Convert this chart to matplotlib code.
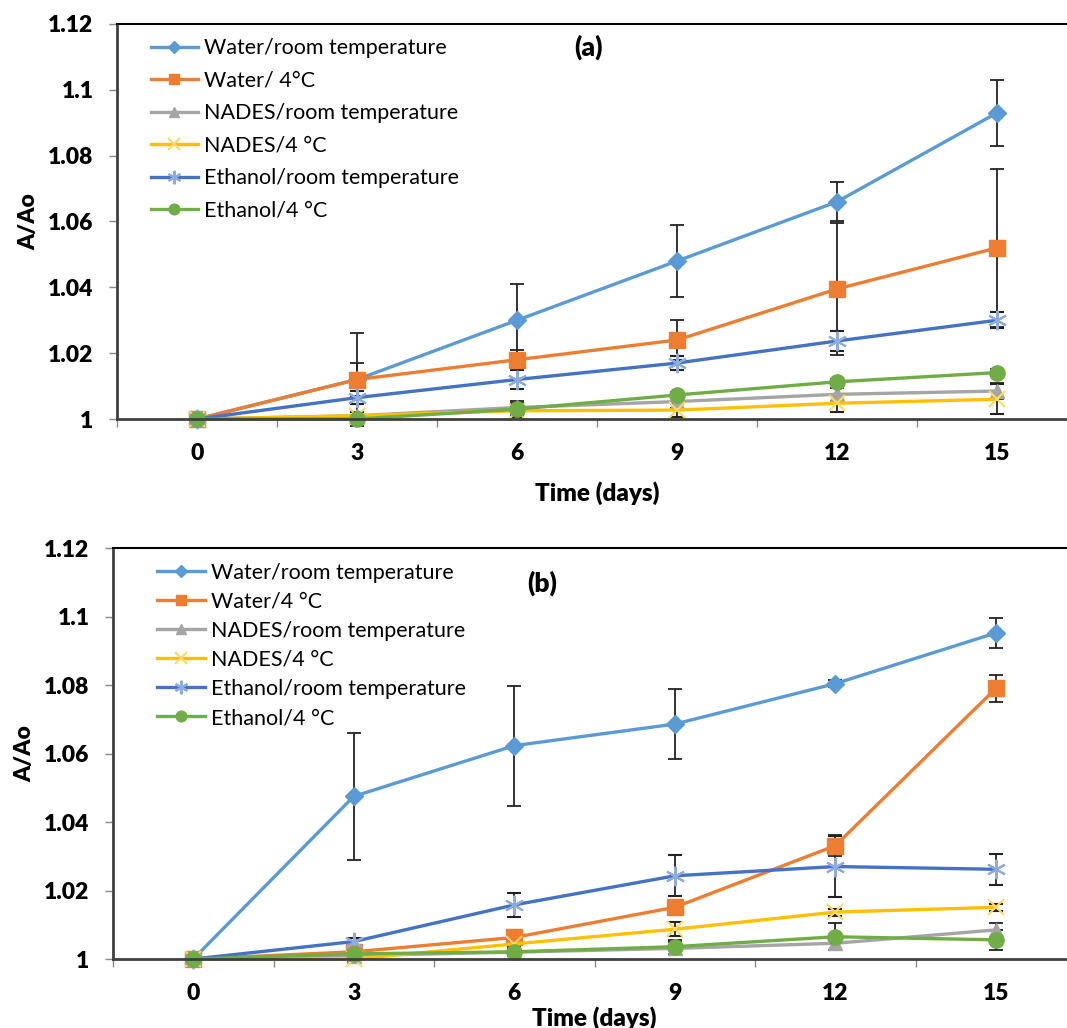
import matplotlib
matplotlib.use("Agg")
import matplotlib.pyplot as plt
import numpy as np

plt.rcParams['font.family'] = ['Lato', 'DejaVu Sans']

days = [0, 3, 6, 9, 12, 15]
labels = ["Water/room temperature", "Water/ 4\u00b0C", "NADES/room temperature",
          "NADES/4 \u00b0C", "Ethanol/room temperature", "Ethanol/4 \u00b0C"]
labels_b = ["Water/room temperature", "Water/4 \u00b0C", "NADES/room temperature",
            "NADES/4 \u00b0C", "Ethanol/room temperature", "Ethanol/4 \u00b0C"]

# panel (a) values and error bars
water_rt_a = [1.0, 1.012, 1.030, 1.048, 1.066, 1.093]
water_4_a = [1.0, 1.012, 1.018, 1.024, 1.0395, 1.052]
nades_rt_a = [1.0, 1.001, 1.0035, 1.0053, 1.0075, 1.0085]
nades_4_a = [1.0, 1.001, 1.0025, 1.0027, 1.0048, 1.006]
eth_rt_a = [1.0, 1.0065, 1.012, 1.017, 1.0237, 1.030]
eth_4_a = [1.0, 1.0, 1.003, 1.0073, 1.0113, 1.0141]
err_water_rt_a = [0, 0.014, 0.011, 0.011, 0.006, 0.010]
err_water_4_a = [0, 0.005, 0.003, 0.006, 0.020, 0.024]
err_nades_rt_a = [0, 0.001, 0.002, 0.002, 0.002, 0.0025]
err_nades_4_a = [0, 0.001, 0.002, 0.002, 0.0027, 0.0045]
err_eth_rt_a = [0, 0.002, 0.003, 0.002, 0.003, 0.0025]
err_eth_4_a = [0, 0.001, 0.002, 0.001, 0.001, 0.001]

# panel (b) values and error bars
water_rt_b = [1.0, 1.0475, 1.0623, 1.0686, 1.0804, 1.0952]
water_4_b = [1.0, 1.0021, 1.0063, 1.0151, 1.0331, 1.079]
nades_rt_b = [1.0, 1.001, 1.002, 1.0031, 1.0046, 1.0085]
nades_4_b = [1.0, 1.0, 1.0044, 1.0087, 1.0137, 1.0151]
eth_rt_b = [1.0, 1.0051, 1.0158, 1.0243, 1.027, 1.0262]
eth_4_b = [1.0, 1.0015, 1.0021, 1.0036, 1.0065, 1.0056]
err_water_rt_b = [0, 0.0185, 0.0175, 0.0103, 0.001, 0.0045]
err_water_4_b = [0, 0.001, 0.001, 0.001, 0.003, 0.004]
err_nades_rt_b = [0, 0.001, 0.001, 0.002, 0.002, 0.002]
err_nades_4_b = [0, 0.001, 0.001, 0.002, 0.001, 0.001]
err_eth_rt_b = [0, 0.001, 0.0035, 0.006, 0.009, 0.0045]
err_eth_4_b = [0, 0.001, 0.001, 0.002, 0.004, 0.003]

styles = [
    dict(color='#5B9BD5', marker='D', ms=9, mfc='#5B9BD5', mec='#5B9BD5'),
    dict(color='#ED7D31', marker='s', ms=11, mfc='#ED7D31', mec='#ED7D31'),
    dict(color='#A5A5A5', marker='^', ms=10, mfc='#A5A5A5', mec='#A5A5A5'),
    dict(color='#FFC000', marker='x', ms=12, mfc='none', mec='#FFD966', mew=1.5),
    dict(color='#4472C4', marker=(6, 2, 0), ms=14, mfc='none', mec='#8FAADC', mew=1.5),
    dict(color='#70AD47', marker='o', ms=11, mfc='#70AD47', mec='#70AD47'),
]


def draw_panel(ax, series, errs, names, tag, tag_xy, legend_xy, spacing, label_y):
    handles = []
    for vals, err, name, st in zip(series, errs, names, styles):
        c = ax.errorbar(days, vals, yerr=err, lw=2.4, ecolor='#222222', elinewidth=1.3,
                        capsize=5, capthick=1.3, label=name, clip_on=False, **st)
        handles.append(c.lines[0])
    ax.set_xlim(-1.5, 16.5)
    ax.set_ylim(1.0, 1.12)
    ax.set_yticks(np.arange(1.0, 1.121, 0.02))
    ax.set_yticklabels(["1", "1.02", "1.04", "1.06", "1.08", "1.1", "1.12"])
    ax.set_xticks(days)
    ax.set_xticks(np.arange(-1.5, 16.6, 3), minor=True)
    ax.tick_params(axis='x', which='major', length=0, pad=17, labelsize=16.5)
    ax.tick_params(axis='x', which='minor', length=6, width=1, color='#888888')
    ax.tick_params(axis='y', length=6, width=1, color='#888888', labelsize=16.5, pad=11)
    for t in ax.get_xticklabels() + ax.get_yticklabels():
        t.set_fontweight('heavy')
    for s in ['left', 'bottom']:
        ax.spines[s].set_linewidth(2)
        ax.spines[s].set_color('#404040')
    ax.spines['top'].set_linewidth(1.5)
    ax.spines['right'].set_visible(False)
    ax.set_ylabel("A/Ao", fontsize=16.5, fontweight='heavy', labelpad=6)
    ax.text(tag_xy[0], tag_xy[1], tag, transform=ax.transAxes, fontsize=19,
            fontweight='heavy', ha='center', va='center')
    ax.legend(handles, names, loc='upper left', bbox_to_anchor=legend_xy, frameon=False,
              fontsize=15.5, handlelength=2.2, handletextpad=0.3, labelspacing=spacing,
              borderaxespad=0, markerscale=0.7)
    ax.set_xlabel("Time (days)", fontsize=17.5, fontweight='heavy', labelpad=label_y)


fig = plt.figure(figsize=(10.67, 10.28), dpi=100)
ax1 = fig.add_axes([0.1097, 0.5924, 0.8997, 0.3843])
ax2 = fig.add_axes([0.1059, 0.0671, 0.9026, 0.3998])

draw_panel(ax1, [water_rt_a, water_4_a, nades_rt_a, nades_4_a, eth_rt_a, eth_4_a],
           [err_water_rt_a, err_water_4_a, err_nades_rt_a, err_nades_4_a, err_eth_rt_a, err_eth_4_a],
           labels, "(a)", (0.491, 0.94), (0.026, 0.985), 0.58, 13)
draw_panel(ax2, [water_rt_b, water_4_b, nades_rt_b, nades_4_b, eth_rt_b, eth_4_b],
           [err_water_rt_b, err_water_4_b, err_nades_rt_b, err_nades_4_b, err_eth_rt_b, err_eth_4_b],
           labels_b, "(b)", (0.446, 0.915), (0.037, 0.985), 0.42, 2)

fig.savefig("out.png", dpi=100)
